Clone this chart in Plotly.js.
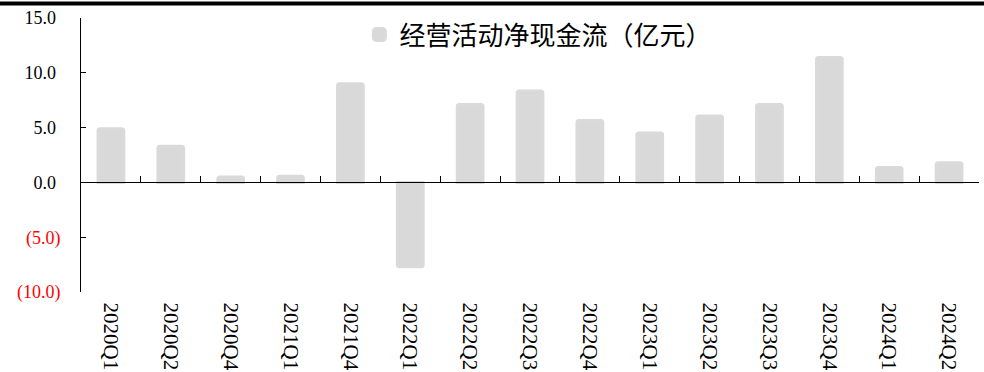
<!DOCTYPE html>
<html>
<head>
<meta charset="utf-8">
<script src="https://cdn.plot.ly/plotly-3.0.1.min.js"></script>
<style>html,body{margin:0;padding:0;background:#fff;}#chart{width:984px;height:372px;}</style>
</head>
<body>
<div id="chart"></div>
<script>
const categories = ["2020Q1","2020Q2","2020Q4","2021Q1","2021Q4","2022Q1","2022Q2","2022Q3","2022Q4","2023Q1","2023Q2","2023Q3","2023Q4","2024Q1","2024Q2"];
const cashFlow = [4.9, 3.3, 0.5, 0.55, 9.0, -7.7, 7.1, 8.35, 5.65, 4.5, 6.05, 7.1, 11.4, 1.35, 1.8];
const seriesName = "经营活动净现金流（亿元）";
const yTickVals = [-10, -5, 0, 5, 10, 15];
const yTickText = ['<span style="color:#ff0000">(10.0)</span>', '<span style="color:#ff0000">(5.0)</span>', '0.0\u00a0', '5.0\u00a0', '10.0\u00a0', '15.0\u00a0'];

const serif = '"Liberation Serif", "Times New Roman", "Noto Sans CJK SC", serif';

const data = [{
  type: 'bar',
  x: categories,
  y: cashFlow,
  name: seriesName,
  width: 0.43,
  marker: {color: '#d9d9d9', cornerradius: 2, line: {width: 3, color: '#dadada'}},
  showlegend: true,
  hoverinfo: 'x+y'
}];

const layout = {
  width: 984,
  height: 372,
  margin: {l: 81, r: 5, t: 18, b: 80, pad: 0},
  paper_bgcolor: '#ffffff',
  plot_bgcolor: '#ffffff',
  font: {family: serif, color: '#000000', size: 17},
  showlegend: true,
  legend: {
    x: 0.31, y: 1.025, xanchor: 'left', yanchor: 'top',
    bgcolor: 'rgba(0,0,0,0)',
    font: {family: '"Noto Sans CJK SC", sans-serif', size: 26, color: '#000000'},
    itemclick: false
  },
  xaxis: {
    type: 'category',
    anchor: 'free',
    position: 0.4,
    showline: true,
    linecolor: '#000000',
    linewidth: 1,
    ticks: 'inside',
    ticklen: 6,
    tickcolor: '#000000',
    tickwidth: 1,
    tickson: 'boundaries',
    tickangle: 90,
    ticklabelstandoff: 115,
    tickfont: {family: serif, size: 21, color: '#000000'},
    showgrid: false,
    zeroline: false,
    fixedrange: true
  },
  yaxis: {
    range: [-10, 15],
    tickvals: yTickVals,
    ticktext: yTickText,
    showline: true,
    linecolor: '#000000',
    linewidth: 1,
    ticks: 'inside',
    ticklen: 5,
    tickcolor: '#000000',
    tickwidth: 1,
    ticklabelstandoff: 16,
    tickfont: {family: serif, size: 18, color: '#000000'},
    showgrid: false,
    zeroline: false,
    fixedrange: true
  },
  shapes: [{
    type: 'line',
    xref: 'paper', yref: 'paper',
    x0: -81/898, x1: 903/898,
    y0: 288.5/274, y1: 288.5/274,
    line: {color: '#000000', width: 4}
  }]
};

Plotly.newPlot('chart', data, layout, {displayModeBar: false, staticPlot: true});
</script>
</body>
</html>
